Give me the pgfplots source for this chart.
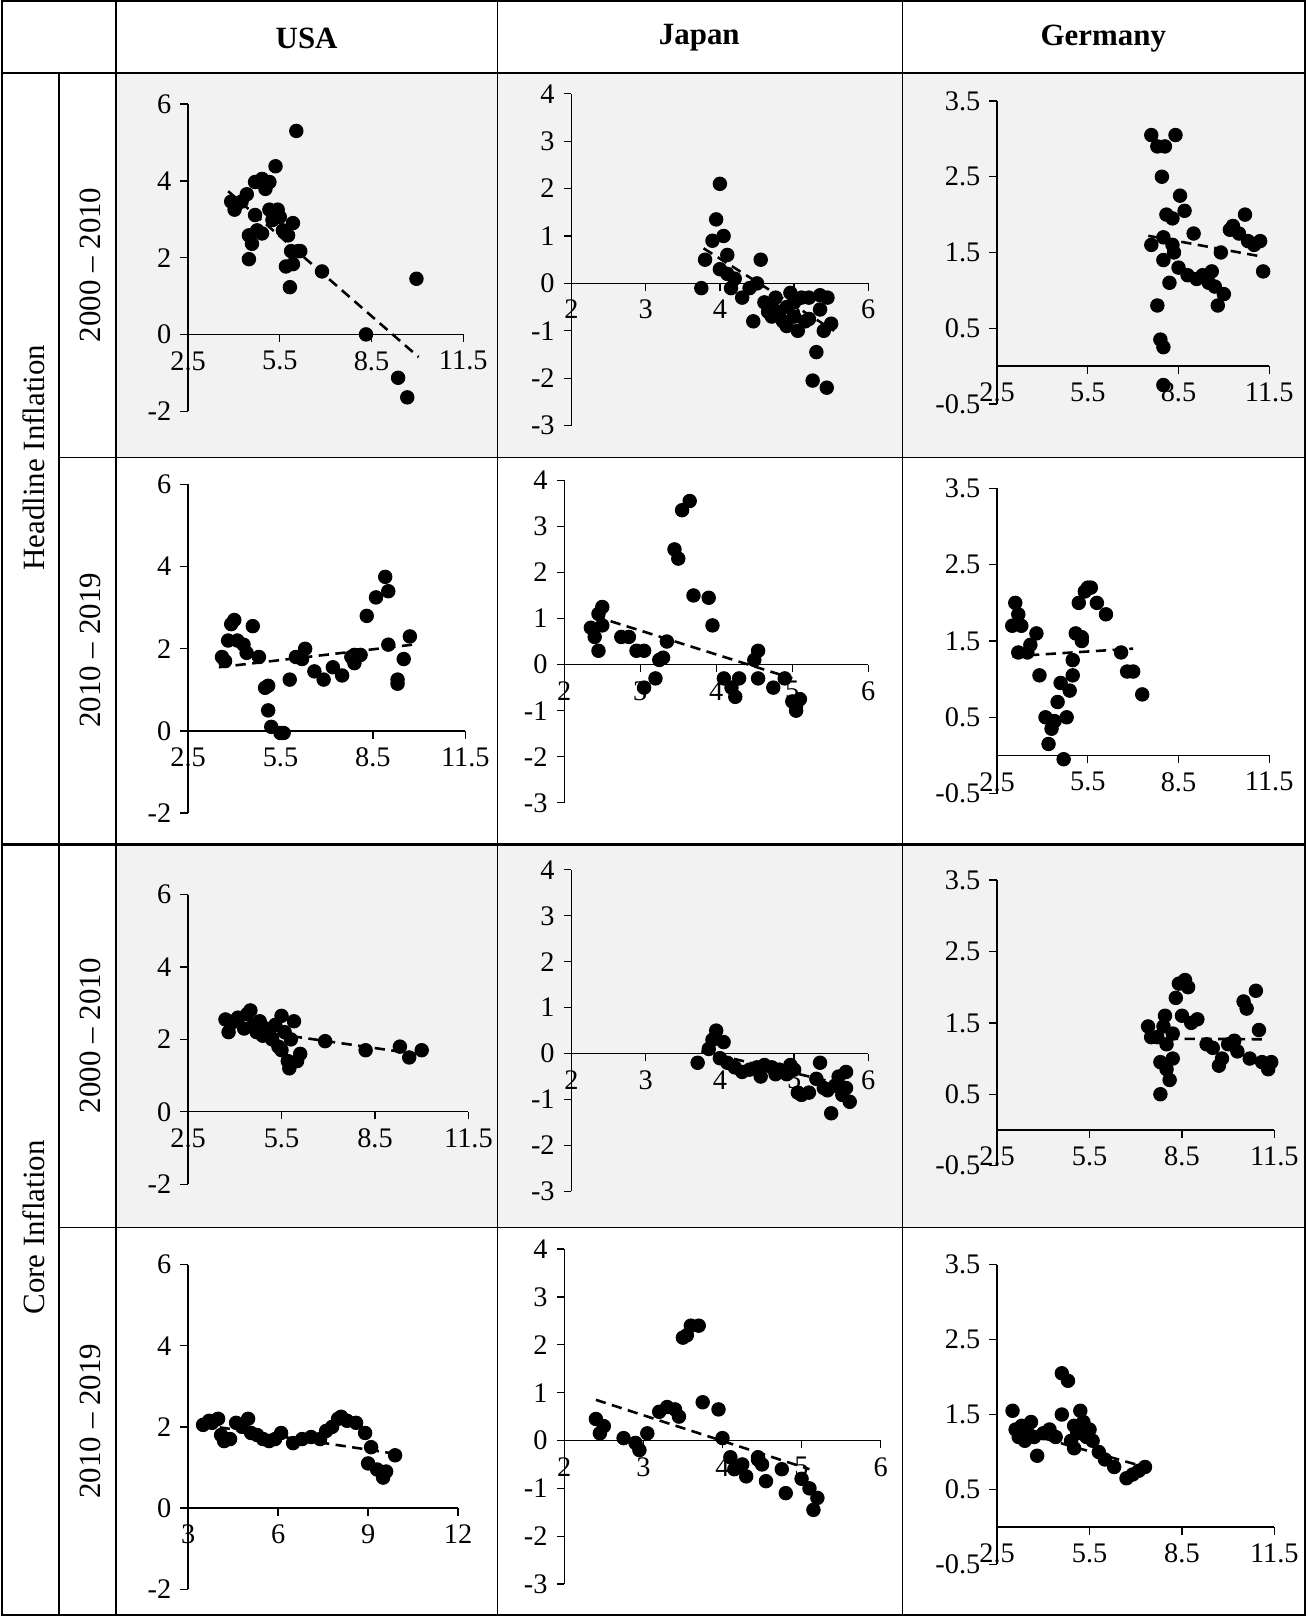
\documentclass[border=0pt]{standalone}
\usepackage{pgfplots}
\pgfplotsset{compat=1.18}
\usepackage{fontspec}
\setmainfont{Liberation Serif}
\pgfplotsset{
  pan/.style={scale only axis, axis y line=left, axis x line=middle, axis line style={-,line width=0.5pt},
    hide obscured x ticks=false, hide obscured y ticks=false,
    tick align=outside, major tick length=3pt, tick style={black,line width=0.5pt},
    ticklabel style={font=\fontsize{11}{13}\selectfont},
    /pgf/number format/assume math mode=true,
    /pgf/number format/.cd,fixed,precision=1,/pgfplots/.cd,
    clip=false, anchor=south west},
  usa/.style={pan,xmin=2.5,xmax=11.5,ymin=-2,ymax=6,xtick={2.5,5.5,8.5,11.5},ytick={-2,0,2,4,6}},
  jp/.style={pan,xmin=2,xmax=6,ymin=-3,ymax=4,xtick={2,3,4,5,6},ytick={-3,-2,-1,0,1,2,3,4}},
  ger/.style={pan,xmin=2.5,xmax=11.5,ymin=-0.5,ymax=3.5,xtick={2.5,5.5,8.5,11.5},ytick={-0.5,0.5,1.5,2.5,3.5},
     yticklabels={-0.5,0.5,1.5,2.5,3.5}},
  dots/.style={only marks, mark=*, mark size=2.6pt, black},
  trend/.style={black, line width=1pt, dash pattern=on 4pt off 2.5pt, no marks},
}
\begin{document}
\begin{tikzpicture}[x=0.4pt,y=0.4pt]
\fill[gray!10] (113,1496) rectangle (1267,1123);
\fill[gray!10] (113,748) rectangle (1267,376);
% ---------- Row 1 ----------
\begin{axis}[usa, at={(73.2pt,467.2pt)}, width=106.8pt, height=119.2pt]
\addplot[dots] coordinates {(3.91,3.46)(4.08,3.38)(4.25,3.46)(4.02,3.25)(4.42,3.65)(4.69,3.97)(4.92,4.05)(5.03,3.79)(5.16,3.97)(4.69,3.11)(4.49,2.58)(4.59,2.36)(4.49,1.96)(4.76,2.71)(4.92,2.63)(5.16,3.25)(5.26,2.98)(5.43,3.25)(5.36,4.38)(5.5,3.06)(5.6,2.71)(5.77,2.58)(5.7,1.77)(5.83,1.23)(5.93,1.83)(5.87,2.17)(5.93,2.9)(6.1,2.17)(6.17,2.17)(6.04,5.3)(6.88,1.64)(8.32,0)(9.37,-1.13)(9.67,-1.64)(9.97,1.45)};
\addplot[trend] coordinates {(3.81,3.73)(10.04,-0.59)};
\end{axis}
\begin{axis}[jp, at={(222pt,461.6pt)}, width=115.2pt, height=128.8pt]
\addplot[dots] coordinates {(3.75,-0.1)(3.8,0.5)(3.9,0.9)(3.95,1.35)(4.0,2.1)(4.0,0.3)(4.05,1.0)(4.1,0.6)(4.1,0.2)(4.15,-0.1)(4.2,0.1)(4.3,-0.3)(4.4,-0.1)(4.45,-0.8)(4.5,0)(4.55,0.5)(4.6,-0.4)(4.65,-0.6)(4.7,-0.7)(4.75,-0.3)(4.8,-0.6)(4.85,-0.8)(4.9,-0.5)(4.95,-0.2)(5.0,-0.7)(5.05,-1.0)(5.1,-0.3)(5.15,-0.8)(5.2,-0.3)(5.25,-2.05)(5.3,-1.45)(5.35,-0.55)(5.4,-1.0)(5.45,-0.3)(5.5,-0.85)(5.44,-2.2)(5.35,-0.25)(5.2,-0.75)(4.9,-0.9)(4.7,-0.5)(5.0,-0.4)};
\addplot[trend] coordinates {(3.78,0.74)(5.54,-1.0)};
\end{axis}
\begin{axis}[ger, at={(387.2pt,470pt)}, width=105.6pt, height=117.6pt]
\addplot[dots] coordinates {(7.6,1.6)(7.6,3.05)(7.8,2.9)(7.8,0.8)(7.9,0.35)(7.95,2.5)(8.0,1.7)(8.0,0.25)(8.0,-0.25)(8.05,2.9)(8.1,2.0)(8.2,1.1)(8.3,1.6)(8.3,1.95)(8.35,1.5)(8.4,3.05)(8.5,1.3)(8.55,2.25)(8.7,2.05)(8.8,1.2)(9.0,1.75)(9.1,1.15)(9.3,1.2)(9.5,1.1)(9.6,1.25)(9.7,1.05)(9.8,0.8)(9.9,1.5)(10.0,0.95)(10.2,1.8)(10.3,1.85)(10.5,1.75)(10.7,2.0)(10.8,1.65)(11.0,1.6)(11.2,1.65)(11.3,1.25)(8.0,1.4)};
\addplot[trend] coordinates {(7.5,1.72)(11.2,1.45)};
\end{axis}
% ---------- Row 2 ----------
\begin{axis}[usa, at={(73.2pt,311.2pt)}, width=107.6pt, height=127.6pt]
\addplot[dots] coordinates {(3.6,1.8)(3.7,1.7)(3.8,2.2)(3.9,2.6)(4.0,2.7)(4.1,2.2)(4.3,2.1)(4.4,1.9)(4.6,2.55)(4.8,1.8)(5.0,1.05)(5.1,1.1)(5.1,0.5)(5.2,0.1)(5.5,-0.05)(5.6,-0.05)(5.8,1.25)(6.2,1.75)(6.3,2.0)(6.6,1.45)(6.9,1.25)(7.2,1.55)(7.5,1.35)(7.8,1.8)(7.9,1.65)(8.1,1.85)(8.3,2.8)(8.6,3.25)(8.9,3.75)(9.0,3.4)(9.0,2.1)(9.3,1.15)(9.3,1.25)(9.5,1.75)(9.7,2.3)(7.9,1.85)(6.0,1.8)};
\addplot[trend] coordinates {(3.5,1.55)(9.8,2.1)};
\end{axis}
\begin{axis}[jp, at={(219.2pt,315.2pt)}, width=118pt, height=125.2pt]
\addplot[dots] coordinates {(2.35,0.8)(2.4,0.6)(2.45,0.3)(2.45,1.1)(2.5,1.25)(2.5,0.85)(2.75,0.6)(2.85,0.6)(2.95,0.3)(3.05,0.3)(3.05,-0.5)(3.2,-0.3)(3.25,0.1)(3.3,0.15)(3.35,0.5)(3.45,2.5)(3.5,2.3)(3.55,3.35)(3.65,3.55)(3.7,1.5)(3.9,1.45)(3.95,0.85)(4.1,-0.3)(4.2,-0.5)(4.25,-0.7)(4.3,-0.3)(4.5,0.1)(4.55,0.3)(4.55,-0.3)(4.75,-0.5)(4.9,-0.3)(5.0,-0.8)(5.05,-1.0)(5.1,-0.75)(5.05,-0.9)};
\addplot[trend] coordinates {(2.4,1.05)(5.0,-0.3)};
\end{axis}
\begin{axis}[ger, at={(387.2pt,318.8pt)}, width=105.6pt, height=118.4pt]
\addplot[dots] coordinates {(3.0,1.7)(3.1,2.0)(3.2,1.85)(3.3,1.7)(3.2,1.35)(3.5,1.35)(3.6,1.45)(3.8,1.6)(3.9,1.05)(4.1,0.5)(4.2,0.15)(4.3,0.35)(4.4,0.45)(4.5,0.7)(4.6,0.95)(4.7,-0.05)(4.8,0.5)(5.0,1.25)(5.1,1.6)(5.2,2.0)(5.3,1.55)(5.4,2.15)(5.5,2.2)(5.6,2.2)(5.8,2.0)(6.1,1.85)(6.6,1.35)(6.8,1.1)(7.0,1.1)(7.3,0.8)(4.9,0.85)(5.0,1.05)(5.3,1.5)};
\addplot[trend] coordinates {(3.0,1.3)(7.0,1.4)};
\end{axis}
% ---------- Row 3 ----------
\begin{axis}[usa, at={(73.2pt,167.2pt)}, width=108.8pt, height=112.4pt]
\addplot[dots] coordinates {(3.7,2.55)(3.8,2.2)(4.0,2.5)(4.1,2.6)(4.3,2.3)(4.4,2.7)(4.5,2.8)(4.6,2.4)(4.7,2.2)(4.8,2.5)(4.9,2.1)(5.0,2.3)(5.1,2.2)(5.2,2.0)(5.3,2.4)(5.4,1.8)(5.5,2.65)(5.6,2.2)(5.7,1.4)(5.75,1.2)(5.8,2.0)(5.9,2.5)(6.0,1.4)(6.1,1.6)(6.9,1.95)(8.2,1.7)(9.3,1.8)(9.6,1.5)(10.0,1.7)(5.5,1.7)};
\addplot[trend] coordinates {(3.7,2.35)(9.8,1.6)};
\end{axis}
\begin{axis}[jp, at={(222pt,164.4pt)}, width=115.2pt, height=124.8pt]
\addplot[dots] coordinates {(3.7,-0.2)(3.85,0.1)(3.9,0.3)(3.95,0.5)(4.0,-0.1)(4.05,0.25)(4.1,-0.2)(4.2,-0.3)(4.3,-0.4)(4.4,-0.35)(4.5,-0.3)(4.55,-0.5)(4.6,-0.25)(4.7,-0.3)(4.75,-0.45)(4.8,-0.35)(4.9,-0.45)(4.95,-0.25)(5.0,-0.35)(5.05,-0.85)(5.1,-0.9)(5.2,-0.85)(5.3,-0.55)(5.35,-0.2)(5.4,-0.75)(5.45,-0.8)(5.5,-1.3)(5.55,-0.7)(5.6,-0.5)(5.65,-0.9)(5.7,-0.4)(5.75,-1.05)(5.7,-0.75)};
\addplot[trend] coordinates {(3.75,0.05)(5.6,-0.65)};
\end{axis}
\begin{axis}[ger, at={(387.2pt,174.4pt)}, width=107.6pt, height=110.8pt]
\addplot[dots] coordinates {(7.4,1.45)(7.5,1.3)(7.7,1.3)(7.8,0.95)(7.8,0.5)(7.9,1.45)(7.95,1.6)(8.0,0.85)(8.1,0.7)(8.2,1.0)(8.2,1.35)(8.3,1.85)(8.4,2.05)(8.5,1.6)(8.6,2.1)(8.7,2.0)(8.8,1.5)(9.0,1.55)(9.3,1.2)(9.5,1.15)(9.7,0.9)(9.8,1.0)(10.0,1.2)(10.2,1.25)(10.3,1.1)(10.5,1.8)(10.6,1.7)(10.7,1.0)(10.9,1.95)(11.0,1.4)(11.1,0.95)(11.3,0.85)(11.4,0.95)(8.0,1.2)};
\addplot[trend] coordinates {(7.5,1.28)(11.2,1.27)};
\end{axis}
% ---------- Row 4 ----------
\begin{axis}[usa, xmin=3, xmax=12, xtick={3,6,9,12}, at={(73.2pt,10pt)}, width=104.8pt, height=126pt]
\addplot[dots] coordinates {(3.5,2.05)(3.7,2.15)(3.8,2.1)(4.0,2.2)(4.1,1.8)(4.2,1.65)(4.4,1.7)(4.6,2.1)(4.8,2.0)(5.0,2.2)(5.1,1.85)(5.3,1.8)(5.5,1.7)(5.7,1.65)(5.9,1.7)(6.1,1.85)(6.5,1.6)(6.8,1.7)(7.1,1.75)(7.4,1.7)(7.6,1.9)(7.8,2.0)(8.0,2.2)(8.3,2.15)(8.6,2.1)(8.9,1.85)(9.0,1.1)(9.1,1.5)(9.3,0.95)(9.5,0.75)(9.6,0.9)(9.9,1.3)(8.1,2.25)};
\addplot[trend] coordinates {(3.5,2.05)(9.8,1.35)};
\end{axis}
\begin{axis}[jp, at={(219.2pt,12pt)}, width=122.8pt, height=130pt]
\addplot[dots] coordinates {(2.4,0.45)(2.45,0.15)(2.5,0.3)(2.75,0.05)(2.9,-0.05)(2.95,-0.2)(3.05,0.15)(3.2,0.6)(3.3,0.7)(3.4,0.65)(3.45,0.5)(3.5,2.15)(3.55,2.2)(3.6,2.4)(3.7,2.4)(3.75,0.8)(3.95,0.65)(4.0,0.05)(4.1,-0.35)(4.15,-0.6)(4.25,-0.5)(4.3,-0.75)(4.45,-0.4)(4.5,-0.5)(4.55,-0.85)(4.75,-0.6)(4.8,-1.1)(5.0,-0.8)(5.1,-1.0)(5.15,-1.45)(5.2,-1.2)(4.45,-0.35)};
\addplot[trend] coordinates {(2.4,0.85)(5.1,-0.6)};
\end{axis}
\begin{axis}[ger, at={(387.2pt,19.6pt)}, width=107.6pt, height=116.4pt]
\addplot[dots] coordinates {(3.0,1.55)(3.1,1.3)(3.2,1.2)(3.3,1.35)(3.4,1.15)(3.5,1.25)(3.6,1.4)(3.7,1.2)(3.8,0.95)(4.0,1.25)(4.2,1.3)(4.4,1.2)(4.6,1.5)(4.6,2.05)(4.8,1.95)(4.9,1.15)(5.0,1.35)(5.1,1.25)(5.2,1.55)(5.3,1.4)(5.4,1.2)(5.5,1.3)(5.6,1.15)(5.8,1.0)(6.0,0.9)(6.3,0.8)(6.7,0.65)(6.9,0.7)(7.1,0.75)(7.3,0.8)(5.0,1.05)};
\addplot[trend] coordinates {(3.0,1.3)(7.3,0.8)};
\end{axis}
% ---------- table lines ----------
\draw[line width=0.8pt] (2,0) rectangle (1267,1566);
\draw[line width=0.6pt] (113,0) -- (113,1566);
\draw[line width=0.6pt] (483,0) -- (483,1566);
\draw[line width=0.6pt] (876,0) -- (876,1566);
\draw[line width=0.6pt] (58,0) -- (58,1496);
\draw[line width=0.8pt] (2,1496) -- (1267,1496);
\draw[line width=0.6pt] (58,1123) -- (1267,1123);
\draw[line width=1.2pt] (2,748) -- (1267,748);
\draw[line width=0.6pt] (58,376) -- (1267,376);
\begin{scope}[font=\fontsize{12}{14}\selectfont]
\node[font=\fontsize{12}{14}\selectfont\bfseries] at (298,1530) {USA};
\node[font=\fontsize{12}{14}\selectfont\bfseries] at (679,1530) {Japan};
\node[font=\fontsize{12}{14}\selectfont\bfseries] at (1071,1530) {Germany};
\node[rotate=90] at (33,1123) {Headline Inflation};
\node[rotate=90] at (33,376) {Core Inflation};
\node[rotate=90] at (88,1310) {2000 – 2010};
\node[rotate=90] at (88,936) {2010 – 2019};
\node[rotate=90] at (88,562) {2000 – 2010};
\node[rotate=90] at (88,188) {2010 – 2019};
\end{scope}
\end{tikzpicture}
\end{document}
